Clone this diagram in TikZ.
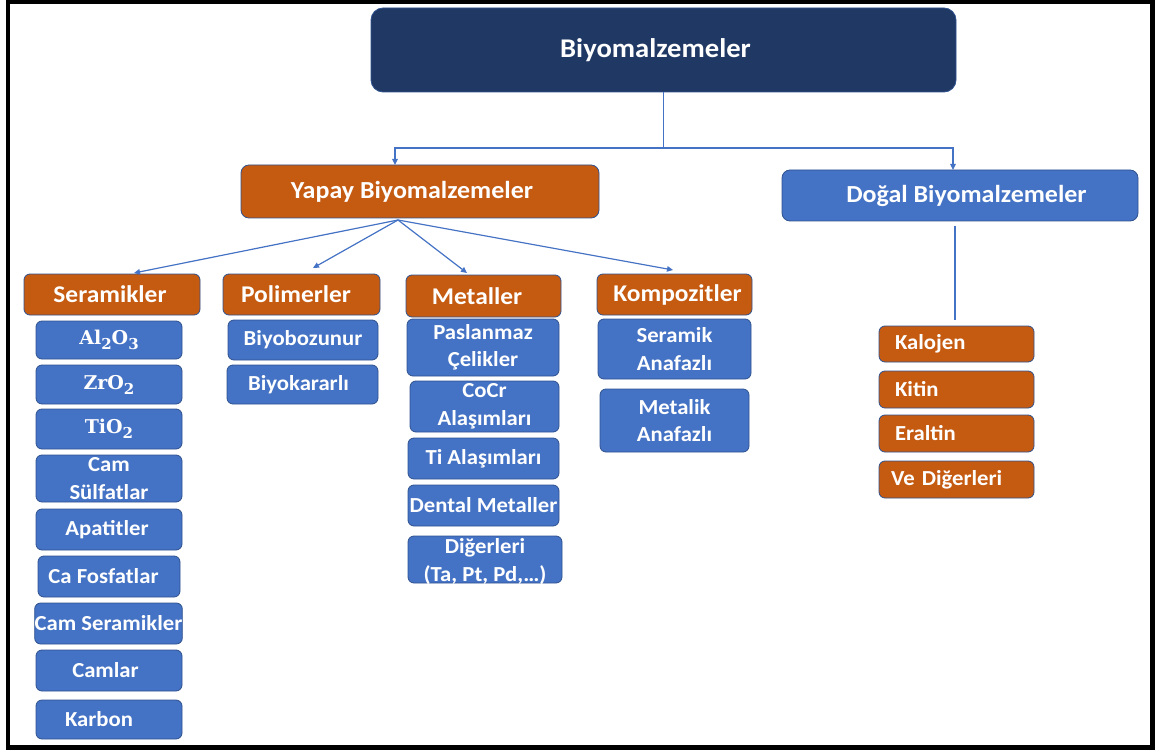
\documentclass[tikz,border=0pt]{standalone}
\usepackage{fontspec}
\setmainfont{Carlito}[FakeStretch=1.06]
\newfontfamily\chemfont{DejaVu Serif}
\usetikzlibrary{arrows.meta}
\definecolor{cNavy}{HTML}{203864}
\definecolor{cOrange}{HTML}{C55A11}
\definecolor{cBlue}{HTML}{4472C4}
\definecolor{cEdge}{HTML}{2F528F}
\definecolor{cLine}{HTML}{4472C4}
\newcommand{\fTitle}{\bfseries\fontsize{27}{31}\selectfont}
\newcommand{\fLev}{\bfseries\fontsize{24.5}{29}\selectfont}
\newcommand{\fCat}{\bfseries\fontsize{24}{28}\selectfont}
\newcommand{\fItem}{\bfseries\fontsize{21.4}{27.5}\selectfont}
\newcommand{\chsub}[1]{\raisebox{-5pt}{\fontsize{15}{15}\selectfont #1}}
\newcommand{\chem}[1]{{\chemfont\bfseries\fontsize{19}{19}\selectfont #1}}
\begin{document}
\begin{tikzpicture}[x=1pt,y=-1pt,
  sz/.style 2 args={minimum width=#1pt, minimum height=#2pt},
  bx/.style={rounded corners=6pt, draw=cEdge, line width=0.8pt, inner sep=0pt, align=center, text=white},
  item/.style={bx, fill=cBlue, font=\fItem},
  cat/.style={bx, fill=cOrange, font=\fCat},
  nat/.style={bx, fill=cOrange, font=\fItem, align=left, inner xsep=16pt, text width=123pt},
  conn/.style={draw=cLine, line width=1.2pt},
  arr/.style={conn, -{Triangle[length=6pt,width=5.5pt]}}
]
\useasboundingbox (0,0) rectangle (1158,751);
\draw[line width=4.5pt] (8,2) rectangle (1152.5,747.5);

% level 0 and 1
\node[bx, rounded corners=12pt, fill=cNavy, font=\fTitle, sz={585}{84}] (top) at (663.5,50) {\hspace*{-16pt}Biyomalzemeler};
\node[cat, rounded corners=8pt, font=\fLev, sz={358}{53}] (yapay) at (420,191.5) {\hspace*{-16pt}Yapay Biyomalzemeler};
\node[bx, rounded corners=8pt, fill=cBlue, font=\fLev, sz={356}{51}] (dogal) at (960,195.5) {\hspace*{13pt}Doğal Biyomalzemeler};

% categories
\node[cat, sz={176}{41}] (ser) at (112,294.5) {\hspace*{-4pt}Seramikler};
\node[cat, sz={157}{41}] (pol) at (301.5,294.5) {\hspace*{-11pt}Polimerler};
\node[cat, sz={155}{42}] (met) at (483.5,296) {\hspace*{-13pt}Metaller};
\node[cat, sz={155}{41}] (kom) at (674.5,294.5) {\hspace*{6pt}Kompozitler};

% ceramics
\node[item, sz={146}{38}] (al) at (109,340) {\chem{Al\chsub{2}O\chsub{3}}};
\node[item, sz={146}{39}] (zr) at (109,384.5) {\chem{ZrO\chsub{2}}};
\node[item, sz={146}{40}] (ti) at (109,429) {\chem{TiO\chsub{2}}};
\node[item, sz={146}{47}] (cs) at (109,478.5) {Cam\\Sülfatlar};
\node[item, sz={146}{41}] (ap) at (109,529.5) {\hspace*{-4pt}Apatitler};
\node[item, sz={142}{41}] (caf) at (109,576.5) {\hspace*{-11pt}Ca Fosfatlar};
\node[item, sz={143}{41}] (cser) at (108.5,623.5) {Cam Seramikler};
\node[item, sz={146}{41}] (caml) at (109,670.5) {\hspace*{-7pt}Camlar};
\node[item, sz={146}{39}] (kar) at (109,719.5) {\hspace*{-20pt}Karbon};

% polymers
\node[item, sz={150}{40}] (bb) at (303,340) {Biyobozunur};
\node[item, sz={151}{39}] (bk) at (302.5,384.5) {\hspace*{-8pt}Biyokararlı};

% metals
\node[item, sz={152}{57}] (pas) at (483,347.5) {Paslanmaz\\Çelikler};
\node[item, sz={149}{51}] (cocr) at (484.5,406.5) {CoCr\\Alaşımları};
\node[item, sz={151}{41}] (tia) at (483.5,458.5) {Ti Alaşımları};
\node[item, sz={151}{41}] (den) at (483.5,505.5) {Dental Metaller};
\node[item, sz={154}{47}] (dig) at (485,559.5) {\raisebox{-7.5pt}[0pt][0pt]{\begin{tabular}{@{}c@{}}Diğerleri\\(Ta, Pt, Pd,…)\end{tabular}}};

% composites
\node[item, sz={153}{60}] (sa) at (674.5,349) {Seramik\\Anafazlı};
\node[item, sz={149}{63}] (ma) at (674.5,420.5) {Metalik\\Anafazlı};

% natural
\node[nat, sz={155}{36}] (kal) at (956.5,344) {Kalojen};
\node[nat, sz={155}{37}] (kit) at (956.5,389.5) {Kitin};
\node[nat, sz={155}{37}] (era) at (956.5,433.5) {Eraltin};
\node[nat, inner xsep=12pt, text width=131pt, sz={155}{37}] (ved) at (956.5,479.5) {Ve Diğerleri};

% connectors
\coordinate (j) at (663.5,148);
\coordinate (yt) at (395,165);
\coordinate (dt) at (953,170);
\draw[conn] (top.south) -- (j);
\draw[arr] (j) -| (yt);
\draw[arr] (j) -| (dt);
\coordinate (d1) at (955,226);
\coordinate (d2) at (955,320);
\draw[conn] (d1) -- (d2);
\coordinate (yb) at (398,220);
\coordinate (t1) at (134,273);
\coordinate (t2) at (313,268);
\coordinate (t3) at (467,273);
\coordinate (t4) at (673,270);
\draw[arr] (yb) -- (t1);
\draw[arr] (yb) -- (t2);
\draw[arr] (yb) -- (t3);
\draw[arr] (yb) -- (t4);
\end{tikzpicture}
\end{document}
